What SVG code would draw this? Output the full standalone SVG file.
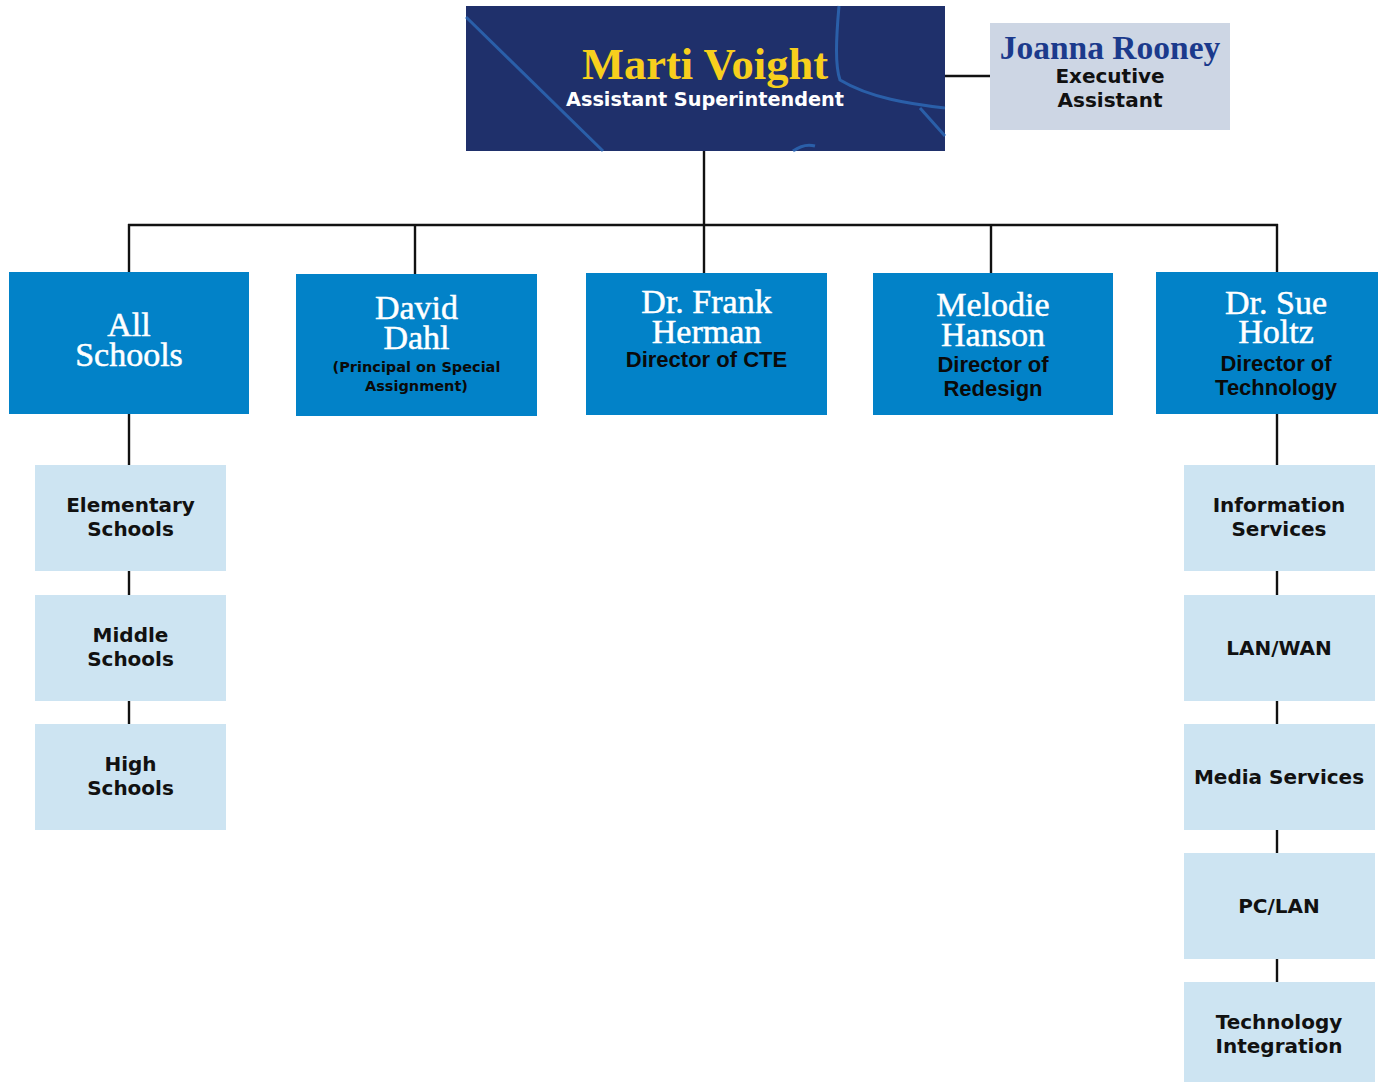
<svg xmlns="http://www.w3.org/2000/svg" width="1378" height="1082" viewBox="0 0 1378 1082">
<style>
.conn{stroke:#111;stroke-width:2.4;fill:none}
.lvl2{fill:#0282c8}
.sub{fill:#cde4f2}
.name{font-family:"Liberation Serif",serif;font-size:34px;fill:#fff;stroke:#fff;stroke-width:0.5;text-anchor:middle}
.title{font-family:"Liberation Sans",sans-serif;font-weight:bold;font-size:22px;fill:#0a0a0a;text-anchor:middle}
.subt{font-family:"DejaVu Sans",sans-serif;font-weight:bold;font-size:20px;fill:#111;text-anchor:middle}
.deco{stroke:#2f6fbd;fill:none;stroke-width:3;opacity:.75}
</style>
<rect width="1378" height="1082" fill="#fff"/>
<g id="connectors">
<line class="conn" x1="704" y1="151" x2="704" y2="225"/>
<line class="conn" x1="945" y1="76" x2="990" y2="76"/>
<line class="conn" x1="128" y1="225" x2="1278" y2="225"/>
<line class="conn" x1="129" y1="224" x2="129" y2="272"/>
<line class="conn" x1="415" y1="224" x2="415" y2="274"/>
<line class="conn" x1="704" y1="224" x2="704" y2="273"/>
<line class="conn" x1="991" y1="224" x2="991" y2="273"/>
<line class="conn" x1="1277" y1="224" x2="1277" y2="272"/>
<line class="conn" x1="129" y1="414" x2="129" y2="465"/>
<line class="conn" x1="129" y1="571" x2="129" y2="595"/>
<line class="conn" x1="129" y1="701" x2="129" y2="724"/>
<line class="conn" x1="1277" y1="414" x2="1277" y2="465"/>
<line class="conn" x1="1277" y1="571" x2="1277" y2="595"/>
<line class="conn" x1="1277" y1="701" x2="1277" y2="724"/>
<line class="conn" x1="1277" y1="830" x2="1277" y2="853"/>
<line class="conn" x1="1277" y1="959" x2="1277" y2="982"/>
</g>
<g id="marti">
<rect x="466" y="6" width="479" height="145" fill="#1f306b"/>
<line class="deco" x1="466" y1="17" x2="603" y2="151"/>
<path class="deco" d="M839,6 C836,40 835,65 840,80 C870,98 910,104 945,108"/>
<path class="deco" d="M920,108 L945,136"/>
<path class="deco" d="M793,151 C800,146 808,144 815,146" opacity=".4"/>
<text x="705" y="79" font-family="Liberation Serif,serif" font-weight="bold" font-size="44.5" fill="#f7cf1d" text-anchor="middle">Marti Voight</text>
<text x="705" y="106" font-family="DejaVu Sans,sans-serif" font-weight="bold" font-size="19.3" fill="#fff" text-anchor="middle">Assistant Superintendent</text>
</g>
<g id="joanna">
<rect x="990" y="23" width="240" height="107" fill="#cdd6e4"/>
<text x="1110" y="59" font-family="Liberation Serif,serif" font-weight="bold" font-size="33.5" fill="#1b3a8c" text-anchor="middle">Joanna Rooney</text>
<text x="1110" y="83" class="subt" font-size="19.5">Executive</text>
<text x="1110" y="107" class="subt" font-size="19.5">Assistant</text>
</g>
<g id="allschools">
<rect class="lvl2" x="9" y="272" width="240" height="142"/>
<text class="name"><tspan x="129" y="336">All</tspan><tspan x="129" y="366">Schools</tspan></text>
</g>
<g id="dahl">
<rect class="lvl2" x="296" y="274" width="241" height="142"/>
<text class="name"><tspan x="416.5" y="319">David</tspan><tspan x="416.5" y="349">Dahl</tspan></text>
<text font-family="DejaVu Sans,sans-serif" font-weight="bold" font-size="14.5" fill="#0a0a0a" text-anchor="middle"><tspan x="416.5" y="372">(Principal on Special</tspan><tspan x="416.5" y="391">Assignment)</tspan></text>
</g>
<g id="herman">
<rect class="lvl2" x="586" y="273" width="241" height="142"/>
<text class="name"><tspan x="706.5" y="313">Dr. Frank</tspan><tspan x="706.5" y="343">Herman</tspan></text>
<text class="title" x="706.5" y="367">Director of CTE</text>
</g>
<g id="hanson">
<rect class="lvl2" x="873" y="273" width="240" height="142"/>
<text class="name"><tspan x="993" y="316">Melodie</tspan><tspan x="993" y="346">Hanson</tspan></text>
<text class="title"><tspan x="993" y="372">Director of</tspan><tspan x="993" y="396">Redesign</tspan></text>
</g>
<g id="holtz">
<rect class="lvl2" x="1156" y="272" width="222" height="142"/>
<text class="name"><tspan x="1276" y="314">Dr. Sue</tspan><tspan x="1276" y="343">Holtz</tspan></text>
<text class="title"><tspan x="1276" y="371">Director of</tspan><tspan x="1276" y="395">Technology</tspan></text>
</g>
<g id="elementary">
<rect class="sub" x="35" y="465" width="191" height="106"/>
<text class="subt"><tspan x="130.5" y="512">Elementary</tspan><tspan x="130.5" y="536">Schools</tspan></text>
</g>
<g id="middle">
<rect class="sub" x="35" y="595" width="191" height="106"/>
<text class="subt"><tspan x="130.5" y="642">Middle</tspan><tspan x="130.5" y="666">Schools</tspan></text>
</g>
<g id="high">
<rect class="sub" x="35" y="724" width="191" height="106"/>
<text class="subt"><tspan x="130.5" y="771">High</tspan><tspan x="130.5" y="795">Schools</tspan></text>
</g>
<g id="infoservices">
<rect class="sub" x="1184" y="465" width="191" height="106"/>
<text class="subt"><tspan x="1279" y="512">Information</tspan><tspan x="1279" y="536">Services</tspan></text>
</g>
<g id="lanwan">
<rect class="sub" x="1184" y="595" width="191" height="106"/>
<text class="subt" x="1279" y="655">LAN/WAN</text>
</g>
<g id="media">
<rect class="sub" x="1184" y="724" width="191" height="106"/>
<text class="subt" x="1279" y="784">Media Services</text>
</g>
<g id="pclan">
<rect class="sub" x="1184" y="853" width="191" height="106"/>
<text class="subt" x="1279" y="913">PC/LAN</text>
</g>
<g id="techint">
<rect class="sub" x="1184" y="982" width="191" height="100"/>
<text class="subt"><tspan x="1279" y="1029">Technology</tspan><tspan x="1279" y="1053">Integration</tspan></text>
</g>
</svg>
